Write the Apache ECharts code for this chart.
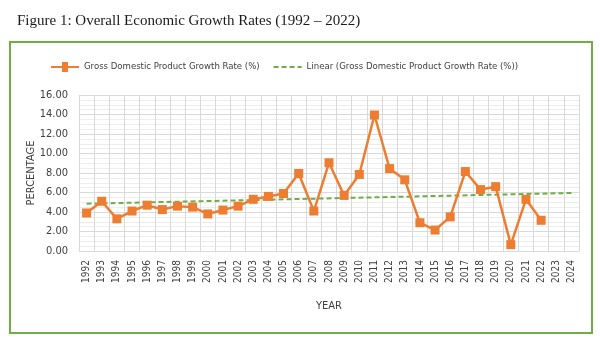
<!DOCTYPE html>
<html lang="en">
<head>
    <meta charset="UTF-8">
    <title>Overall Economic Growth Rates</title>
    <script src="https://cdn.jsdelivr.net/npm/echarts@6/dist/echarts.min.js"></script>
    <style>
        html, body { margin: 0; padding: 0; background: #fff; }
        #main { width: 600px; height: 350px; }
    </style>
</head>
<body>
<div id="main"></div>
<script>
    // years on the x axis (axis runs two years past the data)
    var years = ['1992','1993','1994','1995','1996','1997','1998','1999','2000','2001','2002',
        '2003','2004','2005','2006','2007','2008','2009','2010','2011','2012','2013','2014',
        '2015','2016','2017','2018','2019','2020','2021','2022','2023','2024'];
    // GDP growth rate (%), 1992 - 2022
    var gdpGrowth = [3.9, 5.1, 3.3, 4.1, 4.7, 4.25, 4.6, 4.5, 3.8, 4.2, 4.6,
        5.3, 5.6, 5.9, 7.95, 4.1, 9.05, 5.7, 7.85, 13.95, 8.45, 7.3, 2.9,
        2.15, 3.5, 8.15, 6.3, 6.6, 0.65, 5.3, 3.15];
    // linear trend end points
    var trendYears = ['1992', '2024'];
    var trendValues = [4.85, 5.95];

    var orange = '#ED7D31';
    var green = '#70AD47';
    var labelFont = "'DejaVu Sans Condensed', 'Liberation Sans', sans-serif";

    var myChart = echarts.init(document.getElementById('main'));
    myChart.setOption({
        animation: false,
        title: {
            text: 'Figure 1: Overall Economic Growth Rates (1992 – 2022)',
            left: 12,
            top: 9,
            textStyle: {
                fontFamily: "'Liberation Serif', serif",
                fontSize: 15,
                fontWeight: 'normal',
                color: '#1a1a1a'
            }
        },
        graphic: [{
            type: 'rect',
            shape: { x: 10, y: 42, width: 582, height: 291 },
            style: { fill: 'none', stroke: green, lineWidth: 2 },
            silent: true
        }],
        legend: {
            top: 57,
            left: 46,
            itemGap: 14,
            itemWidth: 28,
            itemHeight: 10,
            textStyle: { fontFamily: labelFont, fontSize: 9.5, color: '#404040' },
            data: [
                { name: 'Gross Domestic Product Growth Rate (%)', icon: 'path://M0,4 L11,4 L11,0 L17,0 L17,4 L28,4 L28,6 L17,6 L17,10 L11,10 L11,6 L0,6 Z' },
                { name: 'Linear (Gross Domestic Product Growth Rate (%))', icon: 'path://M0,4 L5,4 L5,6 L0,6 Z M8,4 L13,4 L13,6 L8,6 Z M16,4 L21,4 L21,6 L16,6 Z M24,4 L28,4 L28,6 L24,6 Z' }
            ]
        },
        grid: { left: 79, right: 21, top: 95, bottom: 99 },
        xAxis: {
            type: 'category',
            data: years,
            name: 'YEAR',
            nameLocation: 'middle',
            nameGap: 50,
            nameMoveOverlap: false,
            nameTextStyle: { fontFamily: labelFont, fontSize: 11, color: '#404040' },
            axisLine: { lineStyle: { color: '#d9d9d9' } },
            axisTick: { show: false },
            axisLabel: {
                rotate: 90,
                interval: 0,
                fontFamily: labelFont,
                fontSize: 10,
                color: '#404040',
                margin: 9
            },
            splitLine: { show: true, interval: 0, lineStyle: { color: '#d9d9d9' } }
        },
        yAxis: {
            type: 'value',
            min: 0,
            max: 16,
            interval: 2,
            name: 'PERCENTAGE',
            nameLocation: 'middle',
            nameGap: 42,
            nameMoveOverlap: false,
            nameTextStyle: { fontFamily: labelFont, fontSize: 11, color: '#404040' },
            axisLine: { show: false },
            axisTick: { show: false },
            axisLabel: {
                fontFamily: labelFont,
                fontSize: 11,
                color: '#404040',
                margin: 11,
                formatter: function (v) { return v.toFixed(2); }
            },
            splitLine: { lineStyle: { color: '#d9d9d9' } },
            minorTick: { show: false, splitNumber: 4 },
            minorSplitLine: { show: true, lineStyle: { color: '#ededed' } }
        },
        series: [{
            name: 'Gross Domestic Product Growth Rate (%)',
            type: 'line',
            data: gdpGrowth,
            symbol: 'rect',
            symbolSize: 9,
            lineStyle: { color: orange, width: 2.5 },
            itemStyle: { color: orange },
            z: 3
        }, {
            name: 'Linear (Gross Domestic Product Growth Rate (%))',
            type: 'line',
            data: [[trendYears[0], trendValues[0]], [trendYears[1], trendValues[1]]],
            symbol: 'none',
            lineStyle: { color: green, width: 2, type: [5, 3] },
            itemStyle: { color: green },
            z: 2
        }]
    });
</script>
</body>
</html>
